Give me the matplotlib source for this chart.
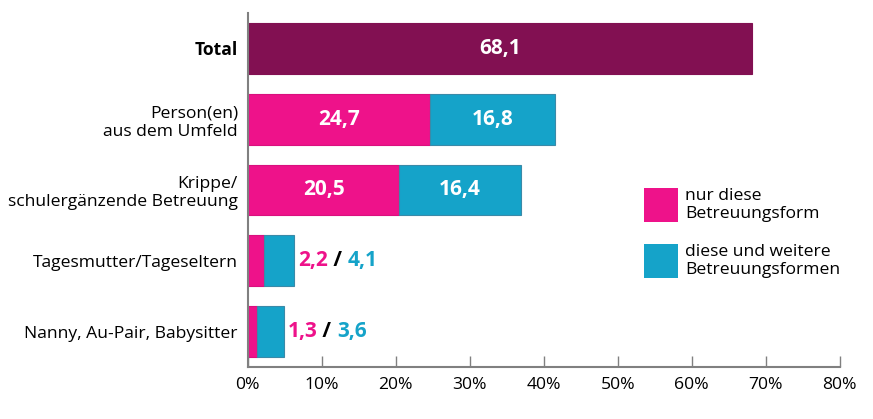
import matplotlib
matplotlib.use("Agg")
import matplotlib.pyplot as plt
from matplotlib.patches import Rectangle

plt.rcParams["font.family"] = ["Open Sans", "DejaVu Sans"]

categories = ["Total", "Person(en)\naus dem Umfeld", "Krippe/\nschulergänzende Betreuung",
              "Tagesmutter/Tageseltern", "Nanny, Au-Pair, Babysitter"]
total = [68.1]
only_this = [24.7, 20.5, 2.2, 1.3]
this_and_more = [16.8, 16.4, 4.1, 3.6]
ticks = [0, 10, 20, 30, 40, 50, 60, 70, 80]
legend_labels = ["nur diese\nBetreuungsform", "diese und weitere\nBetreuungsformen"]

PURPLE = "#821052"
PINK = "#ee128a"
BLUE = "#15a3c9"
BLUE_EDGE = "#3a8aa8"
GREY = "#808080"
H = 0.72
FS = 12.6
VFS = 15

W_PX, H_PX = 873, 419
fig = plt.figure(figsize=(W_PX / 100, H_PX / 100), dpi=100)
ax = fig.add_axes([247.7 / W_PX, 1 - 367 / H_PX, (839.7 - 247.7) / W_PX, (367 - 13) / H_PX])

# Total bar
ax.barh(0, total[0], height=H, color=PURPLE, edgecolor=PURPLE, linewidth=0.8)
ax.text(total[0] / 2, 0, f"{total[0]:.1f}".replace(".", ","), ha="center", va="center",
        color="white", fontsize=VFS, fontweight="bold")

# Stacked bars
ys = [1, 2, 3, 4]
ax.barh(ys, only_this, height=H, color=PINK, edgecolor="#d9107e", linewidth=0.8)
ax.barh(ys, this_and_more, left=only_this, height=H, color=BLUE,
        edgecolor=BLUE_EDGE, linewidth=0.8)

fmt = lambda v: f"{v:.1f}".replace(".", ",")
for y, a, b in zip(ys, only_this, this_and_more):
    if a > 10:
        ax.text(a / 2, y, fmt(a), ha="center", va="center", color="white",
                fontsize=VFS, fontweight="bold")
        ax.text(a + b / 2, y, fmt(b), ha="center", va="center", color="white",
                fontsize=VFS, fontweight="bold")
    else:
        x0 = a + b + 0.5
        t1 = ax.text(x0, y, fmt(a), ha="left", va="center", color=PINK,
                     fontsize=VFS, fontweight="bold")
        t2 = ax.annotate(" / ", xycoords=t1, xy=(1, 0.5), va="center", ha="left",
                         color="black", fontsize=VFS, fontweight="bold")
        ax.annotate(fmt(b), xycoords=t2, xy=(1, 0.5), va="center", ha="left",
                    color=BLUE, fontsize=VFS, fontweight="bold")

ax.set_xlim(0, 80)
ax.set_ylim(4.5, -0.5)
ax.set_xticks(ticks)
ax.set_xticklabels([f"{t}%" for t in ticks], fontsize=FS)
ax.set_yticks(range(5))
ax.set_yticklabels(categories, fontsize=FS, linespacing=1.2)
ax.get_yticklabels()[0].set_fontweight("bold")
ax.tick_params(axis="x", direction="in", length=8, width=1, color=GREY, pad=7)
ax.tick_params(axis="y", length=0, pad=7)
for s in ["top", "right"]:
    ax.spines[s].set_visible(False)
for s in ["left", "bottom"]:
    ax.spines[s].set_color(GREY)
    ax.spines[s].set_linewidth(1.5)

# Legend drawn by hand
for (top, color), label in zip([(188, PINK), (244, BLUE)], legend_labels):
    fig.add_artist(Rectangle((644 / W_PX, 1 - (top + 34) / H_PX), 34 / W_PX, 34 / H_PX,
                             transform=fig.transFigure, facecolor=color, edgecolor="none"))
    fig.text(685 / W_PX, 1 - (top + 17) / H_PX, label, ha="left", va="center",
             fontsize=FS, linespacing=1.2)

fig.savefig("out.png", dpi=100)
